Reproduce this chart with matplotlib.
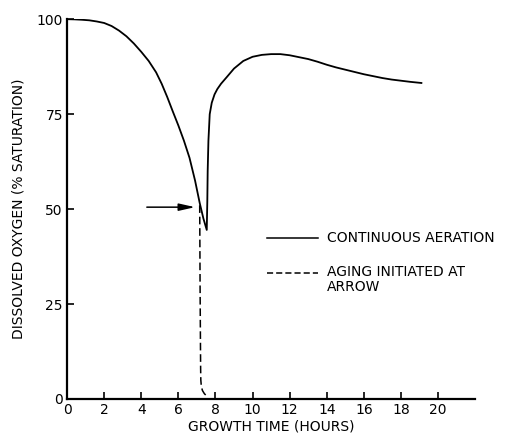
#!/usr/bin/env python3
"""
Dissolved oxygen during growth, continuous aeration vs aging
"""

import matplotlib
matplotlib.use("Agg")
import matplotlib.pyplot as plt

# continuous aeration curve (hours, % saturation)
aer_time = [0, 0.4, 0.8, 1.2, 1.6, 2.0, 2.4, 2.8, 3.2, 3.6, 4.0, 4.4, 4.8,
            5.1, 5.4, 5.7, 6.0, 6.3, 6.6, 6.9, 7.15, 7.35, 7.53,
            7.56, 7.58, 7.62, 7.69, 7.8, 7.95, 8.1, 8.3, 8.6, 9.0, 9.5,
            10.0, 10.5, 11.0, 11.5, 12.0, 12.5, 13.0, 13.5, 14.0, 14.5,
            15.0, 15.5, 16.0, 16.5, 17.0, 17.5, 18.0, 18.5, 19.1]
aer_do = [100, 99.95, 99.85, 99.7, 99.4, 99.0, 98.2, 97.0, 95.5, 93.6, 91.4,
          89.0, 86.0, 83.0, 79.5, 75.7, 72.0, 68.0, 63.5, 57.5, 51.6, 47.5,
          44.5, 52.0, 60.0, 68.0, 75.0, 78.0, 80.2, 81.6, 83.0, 84.7, 87.0,
          89.0, 90.1, 90.6, 90.8, 90.8, 90.5, 90.0, 89.5, 88.8, 88.0, 87.3,
          86.7, 86.1, 85.5, 85.0, 84.5, 84.1, 83.8, 83.5, 83.2]

# aging initiated at arrow
aging_time = [7.15, 7.17, 7.19, 7.2, 7.21, 7.24, 7.3, 7.4, 7.5, 7.58]
aging_do = [51.0, 30.0, 15.0, 8.0, 5.0, 3.2, 2.2, 1.4, 0.9, 0.5]

arrow_y = 50.5
arrow_from = 4.3
arrow_to = 6.9

x_ticks = [0, 2, 4, 6, 8, 10, 12, 14, 16, 18, 20]
y_ticks = [0, 25, 50, 75, 100]

plt.rcParams['font.family'] = ['DejaVu Sans']

fig = plt.figure(figsize=(5.28, 4.36), dpi=100)
ax = fig.add_axes([0.127, 0.085, 0.773, 0.871])

ax.plot(aer_time, aer_do, color='black', linewidth=1.3)
ax.plot(aging_time, aging_do, color='black', linewidth=1.1, linestyle=(0, (5, 2.5)))

ax.annotate('', xy=(arrow_to, arrow_y), xytext=(arrow_from, arrow_y),
            arrowprops=dict(arrowstyle='-|>,head_length=0.8,head_width=0.18',
                            color='black', lw=1.1,
                            mutation_scale=12, shrinkA=0, shrinkB=0))

# legend drawn by hand, like the original figure
ax.plot([10.8, 13.5], [42.4, 42.4], color='black', linewidth=1.1)
ax.plot([10.8, 13.5], [33.2, 33.2], color='black', linewidth=1.1, linestyle=(0, (4, 2)))
ax.text(14.0, 42.4, 'CONTINUOUS AERATION', fontsize=10, va='center', ha='left')
ax.text(14.0, 35.2, 'AGING INITIATED AT\nARROW', fontsize=10, va='top', ha='left',
        linespacing=1.05)

ax.set_xlim(0, 22)
ax.set_ylim(0, 100)
ax.set_xticks(x_ticks)
ax.set_yticks(y_ticks)
ax.tick_params(direction='in', length=5, width=1.2, labelsize=10, pad=3)
ax.spines['top'].set_visible(False)
ax.spines['right'].set_visible(False)
ax.spines['left'].set_linewidth(1.6)
ax.spines['bottom'].set_linewidth(1.6)

ax.set_xlabel('GROWTH TIME (HOURS)', fontsize=10, labelpad=2)
ax.set_ylabel('DISSOLVED OXYGEN (% SATURATION)', fontsize=10, labelpad=8)

plt.savefig('out.png', dpi=100)
plt.close()
